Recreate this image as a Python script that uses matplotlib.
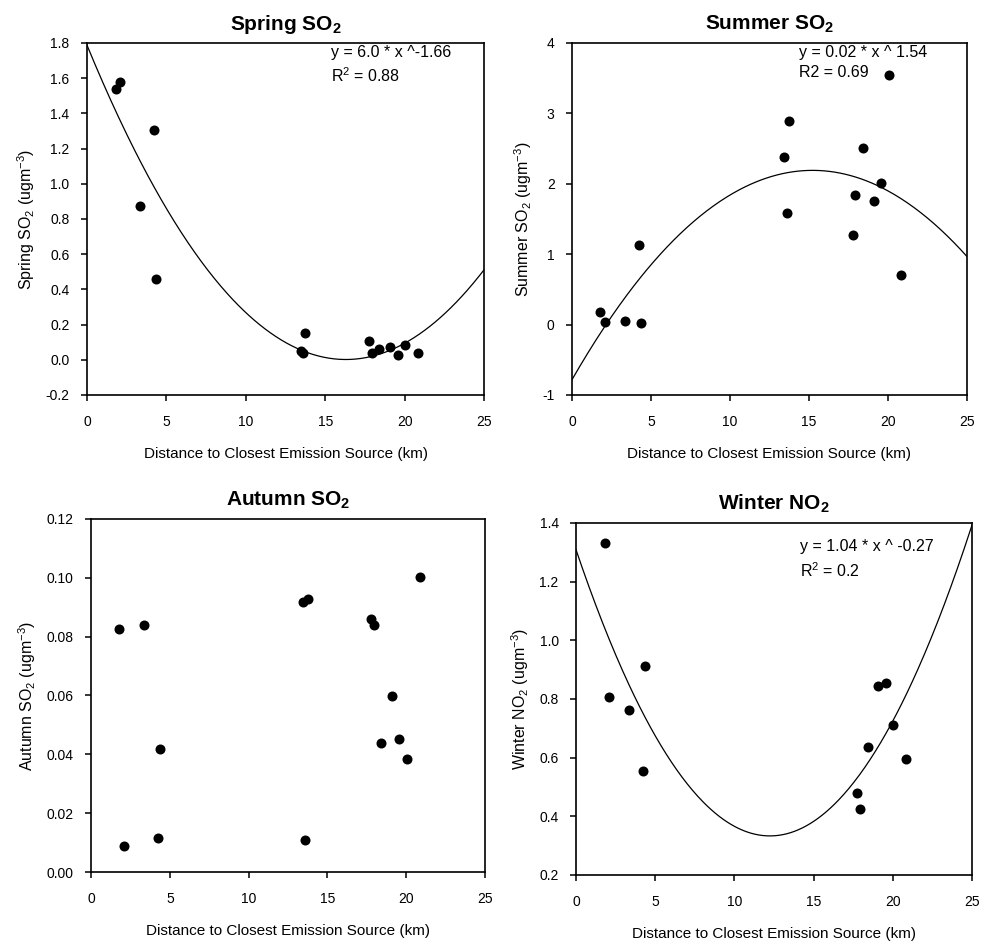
import numpy as np
import matplotlib
matplotlib.use("Agg")
import matplotlib.pyplot as plt

plt.rcParams['font.family'] = ['Liberation Sans', 'DejaVu Sans']
plt.rcParams['mathtext.fontset'] = 'custom'
plt.rcParams['mathtext.rm'] = 'Liberation Sans'
plt.rcParams['mathtext.default'] = 'regular'

# Distance to closest emission source (km), one per site
distance = [1.80, 2.07, 3.34, 4.23, 4.36, 13.45, 13.59, 13.74,
            17.76, 17.93, 18.41, 19.09, 19.56, 20.04, 20.85]

spring_so2 = [1.538, 1.576, 0.871, 1.307, 0.458, 0.052, 0.037, 0.154,
              0.109, 0.041, 0.060, 0.075, 0.027, 0.084, 0.041]
summer_so2 = [0.173, 0.041, 0.050, 1.129, 0.017, 2.382, 1.587, 2.893,
              1.271, 1.838, 2.510, 1.753, 2.013, 3.541, 0.703]
autumn_so2 = [0.0825, 0.0089, 0.0838, 0.0116, 0.0417, 0.0919, 0.0110, 0.0927,
              0.0860, 0.0838, 0.0437, 0.0599, 0.0451, 0.0383, 0.1002]
winter_no2 = [1.332, 0.805, 0.761, 0.553, 0.914, np.nan, np.nan, np.nan,
              0.479, 0.424, 0.635, 0.845, 0.854, 0.710, 0.595]

titles = ["Spring SO$_2$", "Summer SO$_2$", "Autumn SO$_2$", "Winter NO$_2$"]
ylabels = ["Spring SO$_2$ (ugm$^{-3}$)", "Summer SO$_2$ (ugm$^{-3}$)",
           "Autumn SO$_2$ (ugm$^{-3}$)", "Winter NO$_2$ (ugm$^{-3}$)"]
eq_text = ["y = 6.0 * x ^-1.66\nR$^2$ = 0.88", "y = 0.02 * x ^ 1.54\nR2 = 0.69",
           None, "y = 1.04 * x ^ -0.27\nR$^2$ = 0.2"]
yticks = [[-0.2, 0.0, 0.2, 0.4, 0.6, 0.8, 1.0, 1.2, 1.4, 1.6, 1.8],
          [-1, 0, 1, 2, 3, 4],
          [0.00, 0.02, 0.04, 0.06, 0.08, 0.10, 0.12],
          [0.2, 0.4, 0.6, 0.8, 1.0, 1.2, 1.4]]
ytick_fmt = ["{:.1f}", "{:.0f}", "{:.2f}", "{:.1f}"]
xticks = [0, 5, 10, 15, 20, 25]
fit_shown = [True, True, False, True]
xlabel = "Distance to Closest Emission Source (km)"

series = [spring_so2, summer_so2, autumn_so2, winter_no2]

fig = plt.figure(figsize=(9.84, 9.46), dpi=100)
rects = [[0.0884, 0.5825, 0.4035, 0.3721],
         [0.5813, 0.5825, 0.4014, 0.3721],
         [0.0925, 0.0782, 0.4004, 0.3732],
         [0.5854, 0.0751, 0.4024, 0.3721]]
eq_pos = [(0.615, 0.995), (0.575, 0.995), None, (0.565, 0.955)]

for i in range(4):
    ax = fig.add_axes(rects[i])
    x = np.array(distance, dtype=float)
    y = np.array(series[i], dtype=float)
    ok = ~np.isnan(y)
    ax.scatter(x[ok], y[ok], s=52, color='black', zorder=3, linewidths=0)
    if fit_shown[i]:
        coef = np.polyfit(x[ok], y[ok], 2)
        xx = np.linspace(0, 25, 300)
        ax.plot(xx, np.polyval(coef, xx), color='black', lw=0.9, zorder=2)
    ax.set_xlim(0, 25)
    ax.set_ylim(yticks[i][0], yticks[i][-1])
    ax.set_xticks(xticks)
    ax.set_xticklabels([str(t) for t in xticks])
    ax.set_yticks(yticks[i])
    ax.set_yticklabels([ytick_fmt[i].format(t) for t in yticks[i]])
    ax.tick_params(direction='out', length=4.5, width=1.1, labelsize=10,
                   top=False, right=False)
    ax.tick_params(axis='y', pad=8)
    ax.tick_params(axis='x', pad=10)
    for sp in ax.spines.values():
        sp.set_linewidth(1.2)
    ax.set_title(titles[i], fontsize=15, fontweight='bold', pad=9.5)
    ax.set_ylabel(ylabels[i], fontsize=11.5, labelpad=6)
    ax.set_xlabel(xlabel, fontsize=11, labelpad=13)
    if eq_text[i]:
        ax.text(eq_pos[i][0], eq_pos[i][1], eq_text[i], transform=ax.transAxes,
                fontsize=11.5, va='top', ha='left', linespacing=1.45)

fig.savefig("out.png", dpi=100)
